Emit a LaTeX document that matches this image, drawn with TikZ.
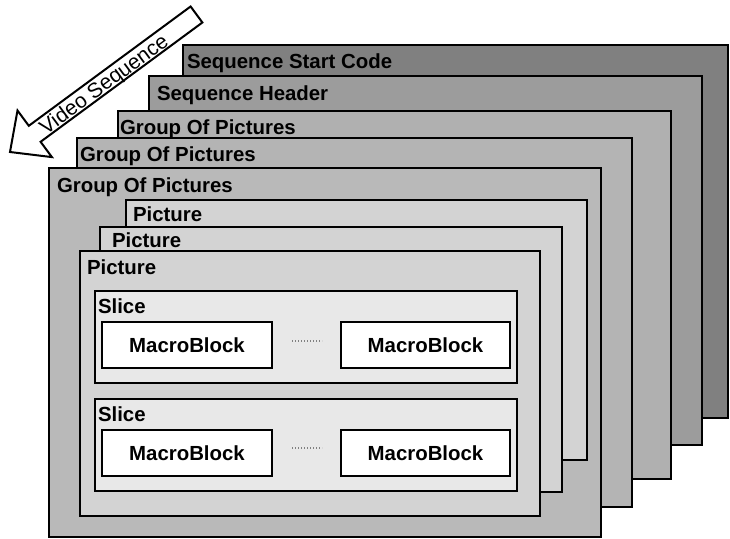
\documentclass[tikz,border=0pt]{standalone}
\usepackage{fontspec}
\setmainfont{Liberation Sans}
\usetikzlibrary{calc}

\definecolor{codeGray}{HTML}{808080}
\definecolor{headerGray}{HTML}{9C9C9C}
\definecolor{gopGrayA}{HTML}{B0B0B0}
\definecolor{gopGrayB}{HTML}{B4B4B4}
\definecolor{gopGrayC}{HTML}{B9B9B9}
\definecolor{pictureGray}{HTML}{D3D3D3}
\definecolor{sliceGray}{HTML}{E8E8E8}

\tikzset{
  layer/.style={draw=black, line width=2.6pt, inner sep=0pt, outer sep=0pt,
    anchor=north west, line join=miter},
  tag/.style={anchor=base west, inner sep=0pt, outer sep=0pt,
    font=\bfseries\fontsize{20.4}{24}\selectfont},
  mblock/.style={layer, anchor=center, fill=white,
    font=\bfseries\fontsize{20.4}{24}\selectfont},
  ellipsis/.style={draw=gray, line width=1.2pt, dash pattern=on 1pt off 2pt},
  flowarrow/.style={draw=black, line width=2pt, fill=white, line join=miter},
}

% box from (#3,#4) to (#5,#6), named #1, filled with #2
\newcommand\layerbox[6]{%
  \node[layer, fill=#2, minimum width={#5-#3}, minimum height={#6-#4}] (#1) at (#3,#4) {};}
% white macroblock box spanning (#2,#3)-(#4,#5)
\newcommand\mbbox[5]{%
  \node[mblock, minimum width={#4-#2}, minimum height={#5-#3}] (#1) at ({(#2+#4)/2},{(#3+#5)/2}) {MacroBlock};}

\begin{document}
\begin{tikzpicture}[x=1pt, y=-1pt]
  \useasboundingbox (0,0) rectangle (730,538);

  % stacked layers, back to front
  \layerbox{ssc}{codeGray}{183}{45}{728}{418}
  \node[tag] (sscT) at (187,68) {Sequence Start Code};
  \layerbox{sh}{headerGray}{149}{76}{702}{445}
  \node[tag] (shT) at (157,100) {Sequence Header};
  \layerbox{gopA}{gopGrayA}{118}{111}{671}{479}
  \node[tag] (gopAT) at (120,134) {Group Of Pictures};
  \layerbox{gopB}{gopGrayB}{77}{138}{632}{507}
  \node[tag] (gopBT) at (80,161) {Group Of Pictures};
  \layerbox{gopC}{gopGrayC}{49}{168}{601}{537}
  \node[tag] (gopCT) at (57,192) {Group Of Pictures};

  \layerbox{picA}{pictureGray}{126}{200}{587}{460}
  \node[tag] (picAT) at (133,221) {Picture};
  \layerbox{picB}{pictureGray}{100}{227}{562}{492}
  \node[tag] (picBT) at (112,247) {Picture};
  \layerbox{picC}{pictureGray}{80}{251}{540}{516}
  \node[tag] (picCT) at (87,274) {Picture};

  % slices with their macroblocks
  \layerbox{sliceA}{sliceGray}{95}{291}{517}{383}
  \node[tag] (sliceAT) at (98,313) {Slice};
  \mbbox{mbA1}{102}{322}{272}{368}
  \mbbox{mbA2}{341}{322}{510}{368}
  \draw[ellipsis] ($(mbA1.east)+(20,-4)$) -- ($(mbA2.west)+(-19,-4)$);

  \layerbox{sliceB}{sliceGray}{95}{399}{517}{491}
  \node[tag] (sliceBT) at (98,421) {Slice};
  \mbbox{mbB1}{102}{430}{272}{476}
  \mbbox{mbB2}{341}{430}{510}{476}
  \draw[ellipsis] ($(mbB1.east)+(20,-5)$) -- ($(mbB2.west)+(-19,-5)$);

  % direction arrow of the sequence
  \draw[flowarrow] (190.6,6.5) -- (202.4,22.5) -- (40.6,141.8) -- (51.9,157.1)
    -- (10,152) -- (17.5,110.5) -- (28.8,125.8) -- cycle;
  \node[rotate=36.4, anchor=base, inner sep=0pt,
    font=\fontsize{21}{24}\selectfont] (vseq) at (107.9,89.7) {Video Sequence};
\end{tikzpicture}
\end{document}
